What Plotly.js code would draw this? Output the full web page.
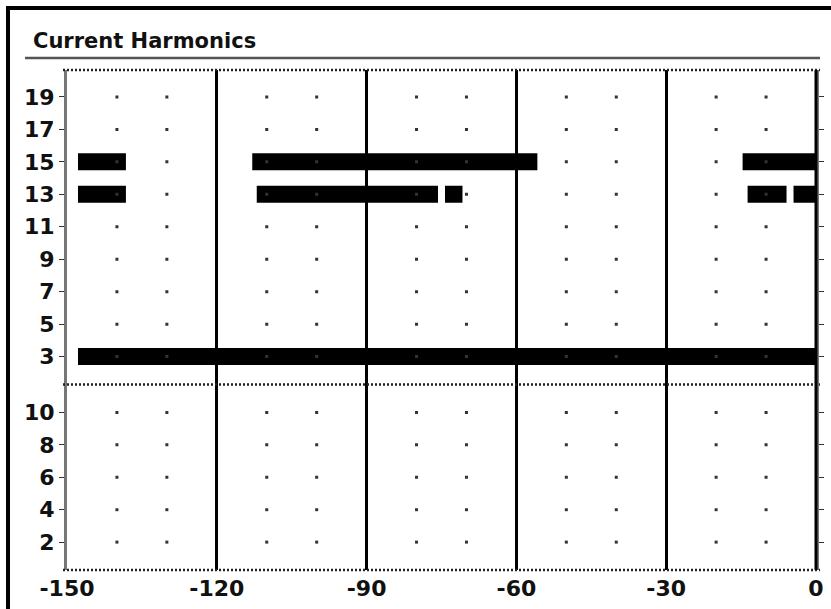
<!DOCTYPE html>
<html>
<head>
<meta charset="utf-8">
<script src="https://cdn.plot.ly/plotly-3.0.1.min.js"></script>
<style>html,body{margin:0;padding:0;background:#fff;}#chart{width:831px;height:609px;}</style>
</head>
<body>
<div id="chart"></div>
<script>
// ---- data ----
const titleText = "Current Harmonics";
const xTickVals = [-150, -120, -90, -60, -30, 0];
const xTickText = ["-150", "-120", "-90", "-60", "-30", "0"];
const upperTicks = [3, 5, 7, 9, 11, 13, 15, 17, 19];
const lowerTicks = [2, 4, 6, 8, 10];
const dotX = [-140, -130, -110, -100, -80, -70, -50, -40, -20, -10];

// harmonic segments (start / end in x units)
const segHarmonic = [15, 15, 15, 13, 13, 13, 13, 13, 3];
const segStart    = [-147.8, -112.9, -14.7, -147.8, -112.0, -74.3, -13.7, -4.5, -147.8];
const segEnd      = [-138.2, -55.8, 0, -138.2, -75.7, -70.8, -5.9, 0, 0];

// ---- build traces ----
const font = {family: "DejaVu Sans", size: 22, color: "#111", weight: "bold"};

const barTrace = {
  type: "bar", orientation: "h",
  y: segHarmonic,
  base: segStart,
  x: segStart.map((s, i) => segEnd[i] - s),
  width: 1.05,
  marker: {color: "#000", line: {width: 0}},
  xaxis: "x", yaxis: "y",
  hoverinfo: "skip", showlegend: false
};

function dotTrace(ticks, yaxis) {
  const xs = [], ys = [];
  ticks.forEach(t => dotX.forEach(x => { xs.push(x); ys.push(t); }));
  return {
    type: "scatter", mode: "markers", x: xs, y: ys,
    marker: {size: 3, color: "#333", symbol: "square"},
    xaxis: "x", yaxis: yaxis, hoverinfo: "skip", showlegend: false
  };
}

const data = [barTrace, dotTrace(upperTicks, "y"), dotTrace(lowerTicks, "y2")];

const yCommon = {
  showgrid: false, zeroline: false,
  showline: true, linecolor: "#777", linewidth: 3, mirror: "ticks",
  ticks: "outside", ticklen: 5, tickwidth: 1, tickcolor: "#333",
  tickfont: font, fixedrange: true
};

const pxX = p => (p - 67) / 749;
const pxY = p => (570 - p) / 500;

const layout = {
  width: 831, height: 609,
  margin: {l: 67, r: 15, t: 70, b: 39, pad: 0},
  paper_bgcolor: "#fff", plot_bgcolor: "#fff",
  barmode: "overlay",
  showlegend: false,
  title: {
    text: titleText,
    x: 33 / 831, xanchor: "left", xref: "container",
    y: 1 - 41 / 609, yanchor: "middle", yref: "container",
    font: {family: "DejaVu Sans", size: 21, color: "#111", weight: "bold"}
  },
  xaxis: {
    anchor: "y2", range: [-150, 0],
    tickmode: "array", tickvals: xTickVals, ticktext: xTickText,
    showgrid: true, gridcolor: "#000", gridwidth: 3,
    zeroline: false, showline: false, ticks: "",
    ticklabelstandoff: 3,
    tickfont: font, fixedrange: true
  },
  yaxis: Object.assign({}, yCommon, {
    domain: [0.371, 1], range: [1.28, 20.66],
    tickmode: "array", tickvals: upperTicks
  }),
  yaxis2: Object.assign({}, yCommon, {
    domain: [0, 0.371], range: [0.28, 11.72],
    tickmode: "array", tickvals: lowerTicks
  }),
  shapes: [
    // outer frame
    {type: "line", xref: "paper", yref: "paper", x0: pxX(6), x1: pxX(835), y0: pxY(8), y1: pxY(8), line: {color: "#000", width: 4}},
    {type: "line", xref: "paper", yref: "paper", x0: pxX(8), x1: pxX(8), y0: pxY(6), y1: pxY(615), line: {color: "#000", width: 4}},
    // title underline
    {type: "line", xref: "paper", yref: "paper", x0: pxX(25), x1: pxX(820), y0: pxY(58), y1: pxY(58), line: {color: "#555", width: 2.5}},
    // dotted horizontal borders
    {type: "line", xref: "paper", yref: "paper", x0: pxX(63), x1: pxX(820), y0: 1, y1: 1, line: {color: "#222", width: 2.5, dash: "2px,2px"}},
    {type: "line", xref: "paper", yref: "paper", x0: pxX(63), x1: pxX(820), y0: 0.371, y1: 0.371, line: {color: "#222", width: 2.5, dash: "2px,2px"}},
    {type: "line", xref: "paper", yref: "paper", x0: pxX(63), x1: pxX(820), y0: 0, y1: 0, line: {color: "#222", width: 2.5, dash: "2px,2px"}},
    // right axis solid black
    {type: "line", xref: "paper", yref: "paper", x0: 1, x1: 1, y0: 0, y1: 1, line: {color: "#000", width: 3}}
  ]
};

Plotly.newPlot("chart", data, layout, {displayModeBar: false, staticPlot: true});
</script>
</body>
</html>
